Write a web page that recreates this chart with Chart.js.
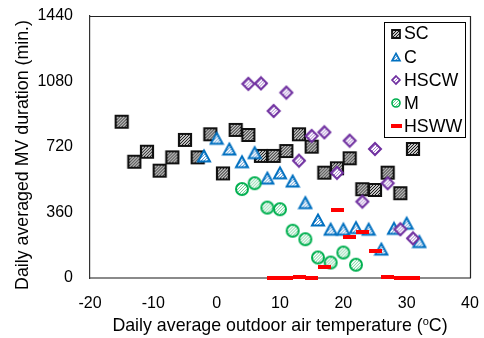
<!DOCTYPE html>
<html>
<head>
<meta charset="utf-8">
<script src="https://cdn.jsdelivr.net/npm/chart.js@4.4.1/dist/chart.umd.min.js"></script>
<style>
  html, body { margin: 0; padding: 0; background: #fff; }
  #wrap { width: 484px; height: 338px; }
</style>
</head>
<body>
<div id="wrap"><canvas id="grafico" width="484" height="338"></canvas></div>
<script>
// series (temperature in oC, duration in min.)
const seriesNames = ['SC', 'C', 'HSCW', 'M', 'HSWW'];

const scTemp = [-15, -13, -11, -9, -7, -5, -3, -1, 1, 3, 5, 7, 9, 11, 13, 15, 17, 19, 21, 23, 25, 27, 29, 31];
const scDur = [859, 639, 694, 590, 663, 759, 663, 790, 575, 814, 786, 671, 671, 698, 790, 722, 579, 603, 658, 488, 484, 579, 466, 709];

const cTemp = [-2, 0, 2, 4, 6, 8, 10, 12, 14, 16, 18, 20, 22, 24, 26, 28, 30, 32];
const cDur = [671, 768, 709, 639, 689, 549, 578, 533, 414, 319, 268, 268, 277, 268, 159, 273, 301, 200];

const hscwTemp = [5, 7, 9, 11, 13, 15, 17, 19, 21, 23, 25, 27, 29, 31];
const hscwDur = [1067, 1070, 918, 1019, 645, 781, 801, 578, 755, 420, 709, 521, 268, 218];

const mTemp = [4, 6, 8, 10, 12, 14, 16, 18, 20, 22];
const mDur = [489, 521, 387, 378, 260, 213, 113, 85, 140, 73];

const hswwTemp = [9, 11, 13, 15, 17, 19, 21, 23, 25, 27, 29, 31];
const hswwDur = [0, 0, 3, 0, 62, 374, 224, 255, 148, 6, 0, 0];

const xTicks = [-20, -10, 0, 10, 20, 30, 40];
const yTicks = [0, 360, 720, 1080, 1440];

const xTitle = 'Daily average outdoor air temperature (';
const xTitleSup = 'o';
const xTitleEnd = 'C)';
const yTitle = 'Daily averaged MV duration (min.)';

const FONT = '"Liberation Sans", Arial, sans-serif';

// hatched marker drawn on a small canvas, used as pointStyle
function makeMarker(kind, size, stroke, bg, hatch, lw) {
    const c = document.createElement('canvas');
    const pad = 2;
    let w = size + pad * 2;
    let h = size + pad * 2;
    if (kind === 'dash') {
        w = size;
        h = Math.max(3, Math.round(size * 0.32));
    }
    c.width = w;
    c.height = h;
    const ctx = c.getContext('2d');
    if (kind === 'dash') {
        ctx.fillStyle = stroke;
        ctx.fillRect(0, 0, w, h);
        return c;
    }
    const cx = w / 2, cy = h / 2, r = size / 2;
    const path = new Path2D();
    if (kind === 'square') {
        path.rect(cx - r, cy - r, size, size);
    } else if (kind === 'triangle') {
        const th = size * 0.9;
        path.moveTo(cx, cy - th / 2);
        path.lineTo(cx + r, cy + th / 2);
        path.lineTo(cx - r, cy + th / 2);
        path.closePath();
    } else if (kind === 'diamond') {
        path.moveTo(cx, cy - r);
        path.lineTo(cx + r, cy);
        path.lineTo(cx, cy + r);
        path.lineTo(cx - r, cy);
        path.closePath();
    } else {
        path.arc(cx, cy, r, 0, Math.PI * 2);
    }
    ctx.save();
    ctx.clip(path);
    ctx.fillStyle = bg;
    ctx.fillRect(0, 0, w, h);
    ctx.strokeStyle = hatch;
    ctx.lineWidth = 1;
    ctx.beginPath();
    for (let k = -h; k < w + h; k += 3) {
        ctx.moveTo(k, h);
        ctx.lineTo(k + h, 0);
    }
    ctx.stroke();
    ctx.restore();
    ctx.strokeStyle = stroke;
    ctx.lineWidth = lw;
    ctx.lineJoin = 'miter';
    ctx.stroke(path);
    return c;
}

const markerDefs = [
    ['square', '#111111', '#c4c4c4', '#1a1a1a', 2.2],
    ['triangle', '#0070C0', '#ffffff', '#5b9bd5', 2],
    ['diamond', '#7030A0', '#ffffff', '#a57fcc', 2],
    ['circle', '#00B050', '#ffffff', '#6fcf97', 2],
    ['dash', '#FF0000', '#FF0000', '#FF0000', 1]
];
const chartMarkers = markerDefs.map(d => makeMarker(d[0], d[0] === 'dash' ? 13 : 12, d[1], d[2], d[3], d[4]));
const legendMarkers = markerDefs.map(d => makeMarker(d[0], d[0] === 'dash' ? 11 : 8, d[1], d[2], d[3], d[4] * 0.8));

function toPoints(xs, ys) {
    return xs.map((x, i) => ({ x: x, y: ys[i] }));
}

const seriesData = [
    toPoints(scTemp, scDur),
    toPoints(cTemp, cDur),
    toPoints(hscwTemp, hscwDur),
    toPoints(mTemp, mDur),
    toPoints(hswwTemp, hswwDur)
];

const frameAndTitles = {
    id: 'frameAndTitles',
    afterDraw(chart) {
        const ctx = chart.ctx;
        const a = chart.chartArea;
        ctx.save();
        // top and right edges of the plot box
        ctx.strokeStyle = '#222';
        ctx.lineWidth = 1.2;
        ctx.beginPath();
        ctx.moveTo(a.left, a.top + 0.5);
        ctx.lineTo(a.right + 0.5, a.top + 0.5);
        ctx.lineTo(a.right + 0.5, a.bottom);
        ctx.stroke();

        // legend box
        const lx = 384.5, ly = 22.5, lw = 81, lh = 115;
        ctx.fillStyle = '#fff';
        ctx.fillRect(lx, ly, lw, lh);
        ctx.strokeStyle = '#000';
        ctx.lineWidth = 1;
        ctx.strokeRect(lx, ly, lw, lh);
        ctx.font = '17.8px ' + FONT;
        ctx.fillStyle = '#000';
        ctx.textBaseline = 'middle';
        ctx.textAlign = 'left';
        chart.data.datasets.forEach((ds, i) => {
            const y = 33.5 + i * 23.2;
            const m = legendMarkers[i];
            ctx.drawImage(m, Math.round(396 - m.width / 2), Math.round(y - m.height / 2));
            ctx.fillText(ds.label, 404, y + 1);
        });

        // x axis title with raised o
        ctx.textBaseline = 'alphabetic';
        const big = '17.8px ' + FONT;
        const small = '11px ' + FONT;
        ctx.font = big;
        const w1 = ctx.measureText(xTitle).width;
        const w3 = ctx.measureText(xTitleEnd).width;
        ctx.font = small;
        const w2 = ctx.measureText(xTitleSup).width;
        let x0 = (a.left + a.right) / 2 - (w1 + w2 + w3) / 2;
        const base = 331;
        ctx.font = big;
        ctx.fillText(xTitle, x0, base);
        ctx.font = small;
        ctx.fillText(xTitleSup, x0 + w1, base - 6);
        ctx.font = big;
        ctx.fillText(xTitleEnd, x0 + w1 + w2, base);

        // y axis title
        ctx.translate(28, 155);
        ctx.rotate(-Math.PI / 2);
        ctx.textAlign = 'center';
        ctx.fillText(yTitle, 0, 0);
        ctx.restore();
    }
};

const config = {
    type: 'scatter',
    data: {
        datasets: seriesNames.map((name, i) => ({
            label: name,
            data: seriesData[i],
            pointStyle: chartMarkers[i],
            pointRadius: 6,
            pointHoverRadius: 6,
            order: 5 - i,
            clip: false
        }))
    },
    options: {
        responsive: false,
        animation: false,
        devicePixelRatio: 1,
        layout: { padding: { left: 0, right: 14, top: 16, bottom: 0 } },
        plugins: {
            legend: { display: false },
            tooltip: { enabled: false }
        },
        scales: {
            x: {
                type: 'linear',
                min: -20,
                max: 40,
                afterFit: s => {
                    s.height = 60;
                    s.paddingLeft = 0;
                    s.paddingRight = 0;
                },
                afterBuildTicks: s => { s.ticks = xTicks.map(v => ({ value: v })); },
                grid: { display: false, drawTicks: false },
                border: { color: '#8a8a8a', width: 2 },
                ticks: {
                    padding: 16,
                    color: '#000',
                    font: { family: FONT, size: 16 },
                    maxRotation: 0,
                    callback: v => String(v)
                }
            },
            y: {
                type: 'linear',
                min: 0,
                max: 1440,
                afterFit: s => {
                    s.width = 90;
                    s.paddingTop = 0;
                    s.paddingBottom = 0;
                },
                afterBuildTicks: s => { s.ticks = yTicks.map(v => ({ value: v })); },
                grid: { display: false, drawTicks: false },
                border: { color: '#333', width: 1.2 },
                ticks: {
                    padding: 17,
                    color: '#000',
                    font: { family: FONT, size: 16 },
                    callback: v => String(v)
                }
            }
        }
    },
    plugins: [frameAndTitles]
};

const grafico = new Chart(document.getElementById('grafico'), config);
</script>
</body>
</html>
